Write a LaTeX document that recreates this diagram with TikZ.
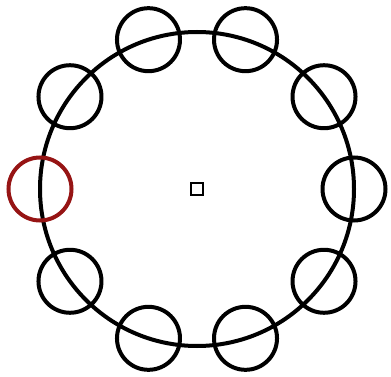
\documentclass[tikz,border=0pt]{standalone}
\definecolor{ringred}{RGB}{150,20,20}
\begin{document}
\begin{tikzpicture}[x=1pt,y=-1pt,
  ring/.style={draw=black,line width=4pt},
  sat/.style={circle,draw=black,line width=4pt,minimum size=63pt,inner sep=0pt},
  marker/.style={draw=black,line width=2.2pt,minimum size=12pt,inner sep=0pt}]
\useasboundingbox (0,0) rectangle (391,377);
\coordinate (c) at (197,189);
\draw[ring] (c) circle (157);
\node[marker] (m) at (c) {};
\foreach \a in {0,36,72,108,144,216,252,288,324}{
  \node[sat] (s\a) at ([shift={(\a:157)}]c) {};
}
\node[sat,draw=ringred] (s180) at ([shift={(180:157)}]c) {};
\end{tikzpicture}
\end{document}
